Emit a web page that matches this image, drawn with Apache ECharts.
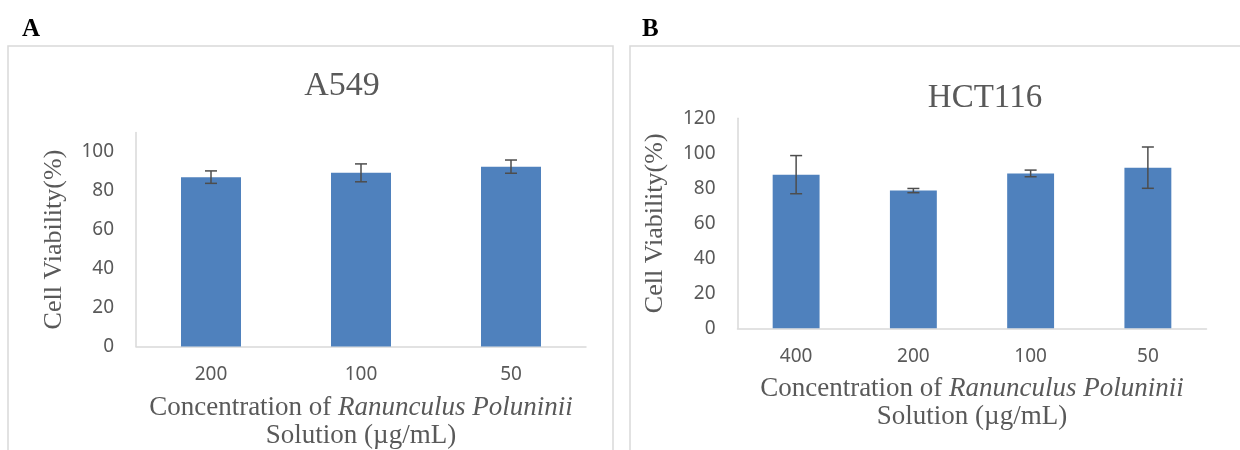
<!DOCTYPE html>
<html>
<head>
<meta charset="utf-8">
<script src="https://cdn.jsdelivr.net/npm/echarts@6/dist/echarts.min.js"></script>
<style>
html,body{margin:0;padding:0;background:#fff;}
#chart{width:1240px;height:450px;}
</style>
</head>
<body>
<div id="chart"></div>
<script>
// Panel A: A549
const catsA = ['200', '100', '50'];
const meanA = [87.1, 89.3, 92.5];
const errA = [3.2, 4.6, 3.4];
// Panel B: HCT116
const catsB = ['400', '200', '100', '50'];
const meanB = [87.8, 78.7, 88.5, 91.8];
const errB = [10.9, 1.2, 1.9, 11.8];
const yTicksA = [0, 20, 40, 60, 80, 100];
const yTicksB = [0, 20, 40, 60, 80, 100, 120];

const GRAY = '#595959';
const AXIS = '#d9d9d9';
const BAR = '#4F81BD';
const SERIF = '"Liberation Serif", "Times New Roman", serif';
const SANS = '"Noto Sans", "Open Sans", Arial, sans-serif';

const chart = echarts.init(document.getElementById('chart'), null, {renderer: 'canvas'});

function errData(means, errs) {
  return means.map((m, i) => [i, m - errs[i], m + errs[i]]);
}
function renderErr(params, api) {
  const x = api.value(0);
  const lo = api.coord([x, api.value(1)]);
  const hi = api.coord([x, api.value(2)]);
  const hw = 6;
  const style = {stroke: '#4d4d4d', lineWidth: 1.5, fill: null};
  return {
    type: 'group',
    children: [
      {type: 'line', shape: {x1: lo[0], y1: lo[1], x2: hi[0], y2: hi[1]}, style},
      {type: 'line', shape: {x1: hi[0] - hw, y1: hi[1], x2: hi[0] + hw, y2: hi[1]}, style},
      {type: 'line', shape: {x1: lo[0] - hw, y1: lo[1], x2: lo[0] + hw, y2: lo[1]}, style}
    ]
  };
}

const xName = '{n|Concentration of }{i|Ranunculus Poluninii}\n{n|Solution (µg/mL)}';
const xNameStyle = {
  fontFamily: SERIF, fontSize: 27, color: GRAY,
  rich: {
    n: {fontFamily: SERIF, fontSize: 27, color: GRAY, lineHeight: 28},
    i: {fontFamily: SERIF, fontSize: 27, color: GRAY, fontStyle: 'italic', lineHeight: 28}
  }
};

function makeX(idx, cats) {
  return {
    type: 'category', gridIndex: idx, data: cats,
    axisLine: {show: true, lineStyle: {color: AXIS, width: 1.5}},
    axisTick: {show: false},
    axisLabel: {color: GRAY, fontSize: 19, fontFamily: SANS, margin: 19},
    name: xName, nameLocation: 'middle', nameGap: 47, nameTextStyle: xNameStyle
  };
}
function makeY(idx, max, ticks) {
  return {
    type: 'value', gridIndex: idx, min: 0, max: max, interval: 20,
    axisLine: {show: true, lineStyle: {color: AXIS, width: 1.5}},
    axisTick: {show: false},
    splitLine: {show: false},
    axisLabel: {
      color: GRAY, fontSize: 19, fontFamily: SANS, margin: 22,
      formatter: v => (ticks.indexOf(v) >= 0 ? String(v) : '')
    },
    name: 'Cell Viability(%)', nameLocation: 'middle', nameGap: 69,
    nameTextStyle: {fontFamily: SERIF, fontSize: 26, color: GRAY}
  };
}

const option = {
  animation: false,
  backgroundColor: '#ffffff',
  title: [
    {text: 'A549', left: 337, top: 64, textAlign: 'center',
     textStyle: {fontFamily: SERIF, fontSize: 34, fontWeight: 'normal', color: GRAY}},
    {text: 'HCT116', left: 980, top: 77, textAlign: 'center',
     textStyle: {fontFamily: SERIF, fontSize: 33, fontWeight: 'normal', color: GRAY}},
    {text: 'A', left: 17, top: 12,
     textStyle: {fontFamily: SERIF, fontSize: 25, fontWeight: 'bold', color: '#000'}},
    {text: 'B', left: 637, top: 12,
     textStyle: {fontFamily: SERIF, fontSize: 25, fontWeight: 'bold', color: '#000'}}
  ],
  graphic: [
    {type: 'rect', shape: {x: 8, y: 46, width: 605, height: 430},
     style: {fill: null, stroke: '#d9d9d9', lineWidth: 1.5}, silent: true},
    {type: 'rect', shape: {x: 630, y: 46, width: 700, height: 430},
     style: {fill: null, stroke: '#d9d9d9', lineWidth: 1.5}, silent: true}
  ],
  grid: [
    {left: 136, top: 132.6, width: 450, height: 214},
    {left: 737.5, top: 118.3, width: 469, height: 210}
  ],
  xAxis: [makeX(0, catsA), makeX(1, catsB)],
  yAxis: [makeY(0, 110, yTicksA), makeY(1, 120, yTicksB)],
  series: [
    {type: 'bar', xAxisIndex: 0, yAxisIndex: 0, data: meanA, barWidth: '40%',
     itemStyle: {color: BAR}},
    {type: 'custom', xAxisIndex: 0, yAxisIndex: 0, data: errData(meanA, errA),
     renderItem: renderErr, encode: {x: 0, y: [1, 2]}, z: 5},
    {type: 'bar', xAxisIndex: 1, yAxisIndex: 1, data: meanB, barWidth: '40%',
     itemStyle: {color: BAR}},
    {type: 'custom', xAxisIndex: 1, yAxisIndex: 1, data: errData(meanB, errB),
     renderItem: renderErr, encode: {x: 0, y: [1, 2]}, z: 5}
  ]
};
chart.setOption(option);
</script>
</body>
</html>
